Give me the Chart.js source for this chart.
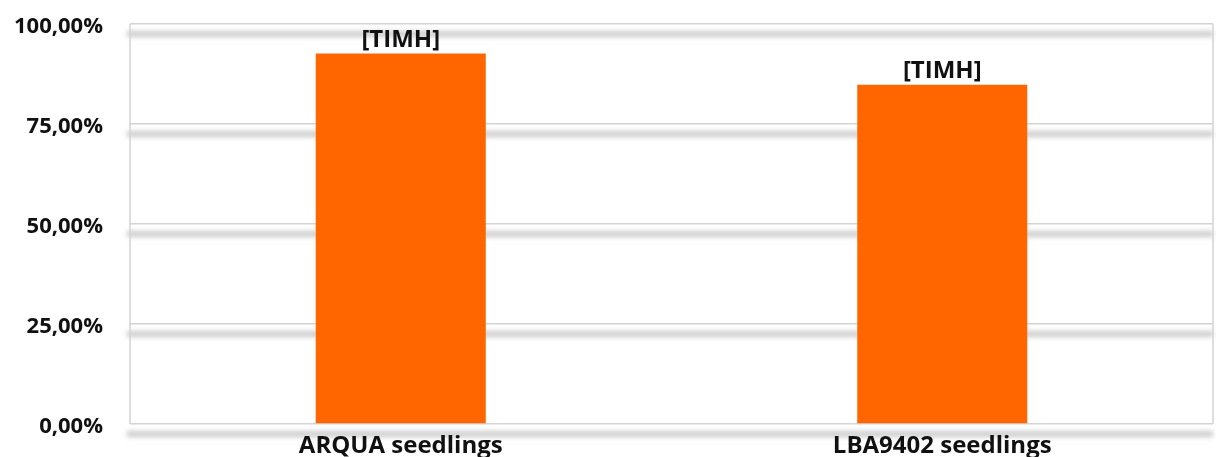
<!doctype html>
<html lang="en">
  <head>
    <meta charset="utf-8">
    <title>Seedlings</title>
    <style>
      * { margin: 0; padding: 0; }
      body { background: #fff; }
      .chartBox {
        position: relative;
        width: 1216px;
        height: 457px;
      }
    </style>
  </head>
  <body>
    <div class="chartBox">
      <canvas id="myChart"></canvas>
    </div>

    <script src="https://cdn.jsdelivr.net/npm/chart.js"></script>
    <script>
    // data
    const categories = ['ARQUA seedlings', 'LBA9402 seedlings'];
    const values = [92.6, 84.8];
    const barLabels = ['[TIMH]', '[TIMH]'];

    const FONT = '"Open Sans", "DejaVu Sans", sans-serif';
    const GRID = '#d4d4d4';

    // soft grey shadow under each horizontal gridline, plus the box sides
    const shadowGrid = {
      id: 'shadowGrid',
      beforeDraw(chart) {
        const { ctx, chartArea, scales: { y } } = chart;
        ctx.save();
        ctx.filter = 'blur(2.5px)';
        ctx.strokeStyle = 'rgba(160,160,160,0.55)';
        ctx.lineWidth = 6;
        y.ticks.forEach(t => {
          const py = y.getPixelForValue(t.value) + 10;
          ctx.beginPath();
          ctx.moveTo(chartArea.left - 3, py);
          ctx.lineTo(chartArea.right, py);
          ctx.stroke();
        });
        ctx.restore();
      },
      beforeDatasetsDraw(chart) {
        const { ctx, chartArea } = chart;
        ctx.save();
        ctx.strokeStyle = GRID;
        ctx.lineWidth = 1.5;
        ctx.beginPath();
        ctx.moveTo(chartArea.left, chartArea.top);
        ctx.lineTo(chartArea.left, chartArea.bottom);
        ctx.moveTo(chartArea.right, chartArea.top);
        ctx.lineTo(chartArea.right, chartArea.bottom);
        ctx.stroke();
        ctx.restore();
      }
    };

    // text label above each bar
    const topLabels = {
      id: 'topLabels',
      afterDatasetsDraw(chart) {
        const { ctx } = chart;
        ctx.save();
        ctx.font = 'bold 24px ' + FONT;
        ctx.fillStyle = '#111';
        ctx.textAlign = 'center';
        ctx.textBaseline = 'alphabetic';
        chart.getDatasetMeta(0).data.forEach((bar, i) => {
          ctx.fillText(barLabels[i], bar.x, bar.y - 7);
        });
        ctx.restore();
      }
    };

    const config = {
      type: 'bar',
      data: {
        labels: categories,
        datasets: [{
          data: values,
          backgroundColor: '#ff6600',
          barPercentage: 0.314,
          categoryPercentage: 1
        }]
      },
      options: {
        responsive: true,
        maintainAspectRatio: false,
        animation: false,
        layout: { padding: { top: 24, right: 3, left: 0, bottom: 0 } },
        plugins: {
          legend: { display: false },
          tooltip: { enabled: false }
        },
        scales: {
          x: {
            grid: { display: false },
            border: { display: false },
            ticks: {
              color: '#111',
              padding: 0,
              font: { family: FONT, size: 24, weight: 'bold' }
            },
            afterFit: s => { s.height = 33; s.paddingLeft = 0; s.paddingRight = 0; }
          },
          y: {
            min: 0,
            max: 100,
            border: { display: false },
            grid: { color: GRID, lineWidth: 1.5, drawTicks: false },
            ticks: {
              stepSize: 25,
              color: '#111',
              padding: 27,
              labelOffset: 3,
              font: { family: FONT, size: 22, weight: 'bold' },
              callback: v => v.toFixed(2).replace('.', ',') + '%'
            },
            afterFit: s => { s.width = 130; s.paddingTop = 0; s.paddingBottom = 0; }
          }
        }
      },
      plugins: [shadowGrid, topLabels]
    };

    const myChart = new Chart(document.getElementById('myChart'), config);
    </script>
  </body>
</html>
